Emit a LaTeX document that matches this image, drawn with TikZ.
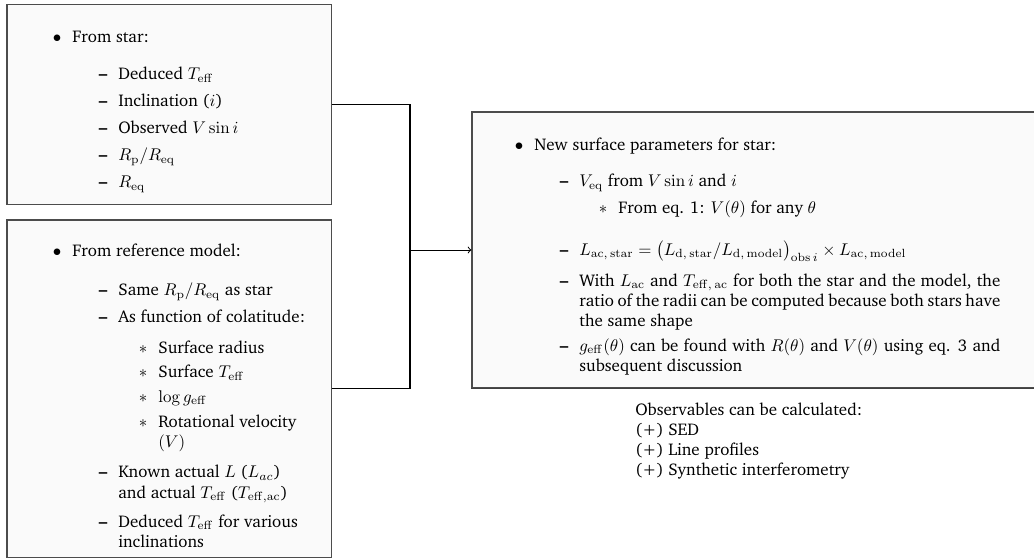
\documentclass[tikz,border=0pt]{standalone}
\usepackage[T1]{fontenc}
\usepackage{charter}
\usetikzlibrary{fit}
\newlength\pxu \setlength\pxu{0.59pt}
\tikzset{
 box/.style={draw=black!70, line width=0.7pt, fill=black!2, inner sep=0pt},
 conn/.style={draw=black, line width=0.6pt},
 txt/.style={anchor=base west, inner sep=0pt, font=\fontsize{10}{12}\selectfont},
}
\newcommand\itm[5]{\node[txt] (#1) at (#2,#3) {\llap{#4\hspace{11\pxu}}#5};}
\newcommand\mybul{$\bullet$}
\newcommand\mydash{\textbf{\textendash}}
\newcommand\myast{$\ast$}
\newcommand\teff{T_{\rm eff}}
\begin{document}
\begin{tikzpicture}[x=0.59pt,y=-0.59pt]
\useasboundingbox (0,0) rectangle (1034,559);
\node[box, fit={(7,4.5) (331.7,204.3)}] (b1) {};
\node[box, fit={(7,220) (331.7,557.7)}] (b2) {};
\node[box, fit={(472,112) (1045,388)}] (rb) {};
\draw[black!75, line width=1pt] (rb.south west) -- (rb.south east);
\coordinate (j) at (410,250);
\draw[conn] (b1.east) -| (j) |- (b2.east);
\draw[conn,->] (j) -- (rb.west);
% box 1
\itm{t1}{72}{42}{\mybul}{From star:}
\itm{t2}{118}{79.5}{\mydash}{Deduced $\teff$}
\itm{t3}{118}{106.5}{\mydash}{Inclination ($i$)}
\itm{t4}{118}{133.5}{\mydash}{Observed $V\sin i$}
\itm{t5}{118}{160.5}{\mydash}{$R_{\rm p}/R_{\rm eq}$}
\itm{t6}{118}{187.5}{\mydash}{$R_{\rm eq}$}
% box 2
\itm{u1}{72}{256}{\mybul}{From reference model:}
\itm{u2}{118}{295.5}{\mydash}{Same $R_{\rm p}/R_{\rm eq}$ as star}
\itm{u3}{118}{322}{\mydash}{As function of colatitude:}
\itm{u4}{158}{353}{\myast}{Surface radius}
\itm{u5}{158}{377.7}{\myast}{Surface $\teff$}
\itm{u6}{158}{402.4}{\myast}{$\log g_{\rm eff}$}
\itm{u7}{158}{427}{\myast}{Rotational velocity}
\node[txt] (u7b) at (158,447.5) {$(V)$};
\itm{u8}{118}{477.5}{\mydash}{Known actual $L$ ($L_{ac}$)}
\node[txt] (u8b) at (118,498) {and actual $\teff$ ($T_{\rm eff,ac}$)};
\itm{u9}{118}{527}{\mydash}{Deduced $\teff$ for various}
\node[txt] (u9b) at (118,547.5) {inclinations};
% right box
\itm{r1}{534}{150}{\mybul}{New surface parameters for star:}
\itm{r2}{579}{186.7}{\mydash}{$V_{\rm eq}$ from $V\sin i$ and $i$}
\itm{r3}{618}{213}{\myast}{From eq. 1: $V(\theta)$ for any $\theta$}
\itm{r4}{579}{255}{\mydash}{$L_{\rm ac,\,star}=\bigl(L_{\rm d,\,star}/L_{\rm d,\,model}\bigr)_{{\rm obs}\,i}\times L_{\rm ac,\,model}$}
\itm{r5}{579}{286}{\mydash}{\makebox[421\pxu][s]{With $L_{\rm ac}$ and $T_{\rm eff,\,ac}$ for both the star and the model, the}}
\node[txt] (r5b) at (579,306.7) {\makebox[421\pxu][s]{ratio of the radii can be computed because both stars have}};
\node[txt] (r5c) at (579,326.7) {the same shape};
\itm{r6}{579}{351}{\mydash}{\makebox[421\pxu][s]{$g_{\rm eff}(\theta)$ can be found with $R(\theta)$ and $V(\theta)$ using eq. 3 and}}
\node[txt] (r6b) at (579,371.7) {subsequent discussion};
% observables
\node[txt] (o1) at (635,415) {Observables can be calculated:};
\node[txt] (o2) at (635,435) {(+) SED};
\node[txt] (o3) at (635,455) {(+) Line profiles};
\node[txt] (o4) at (635,475) {(+) Synthetic interferometry};
\end{tikzpicture}
\end{document}
